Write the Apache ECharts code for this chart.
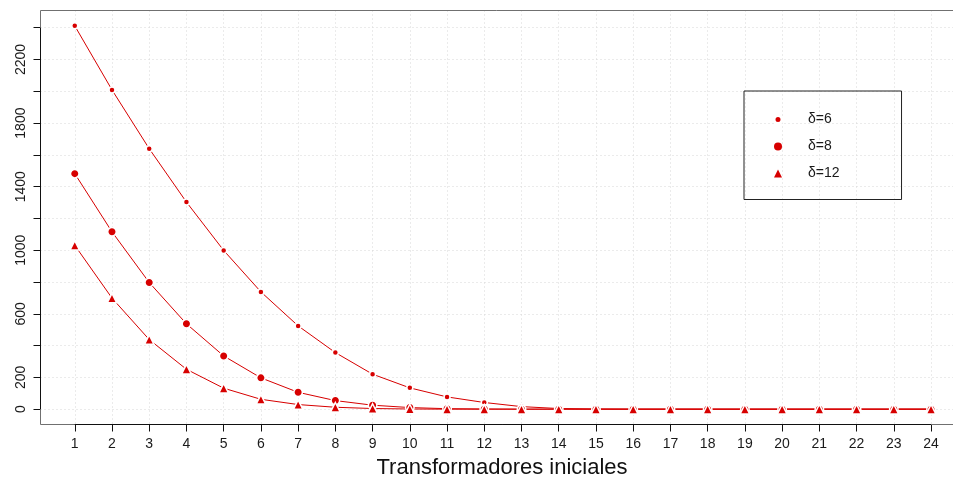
<!DOCTYPE html>
<html>
<head>
<meta charset="utf-8">
<script src="https://cdn.jsdelivr.net/npm/echarts@6/dist/echarts.min.js"></script>
<style>
  html, body { margin: 0; padding: 0; background: #fff; }
  #chart { width: 953px; height: 479px; }
</style>
</head>
<body>
<div id="chart"></div>
<script>
// Number of initial transformers on the x axis
const transformers = [1, 2, 3, 4, 5, 6, 7, 8, 9, 10, 11, 12, 13, 14, 15, 16, 17, 18, 19, 20, 21, 22, 23, 24];

// One curve per delta value
const delta6  = [2412, 2009, 1639, 1303, 999, 738, 524, 356, 220, 134, 77, 42, 16, 4, 1, 0, 0, 0, 0, 0, 0, 0, 0, 0];
const delta8  = [1482, 1116, 797, 537, 335, 197, 106, 54, 25, 10, 3, 1, 0, 0, 0, 0, 0, 0, 0, 0, 0, 0, 0, 0];
const delta12 = [1031, 699, 438, 251, 132, 62, 29, 12, 4, 1, 0, 0, 0, 0, 0, 0, 0, 0, 0, 0, 0, 0, 0, 0];

const seriesNames = ['\u03b4=6', '\u03b4=8', '\u03b4=12'];

// Axis ticks and the labels printed on them
const yTicks = [0, 200, 400, 600, 800, 1000, 1200, 1400, 1600, 1800, 2000, 2200, 2400];
const yLabels = [0, 200, 600, 1000, 1400, 1800, 2200];
const xTitle = 'Transformadores iniciales';

// Axis ranges: 4% padding beyond the data; the plot box runs past the right edge
const xMin = 0.08, xMax = 24.59;
const yMin = -96.5, yMax = 2508.5;

const RED = '#d70000';
const BOX = '#707070';
const INK = '#111111';
const FONT = 'Liberation Sans, Arial, Helvetica, sans-serif';

const pairs = (ys) => transformers.map((x, i) => [x, ys[i]]);

const chart = echarts.init(document.getElementById('chart'), null, { renderer: 'canvas' });

const lineSeries = (name, ys, symbol, size, extra) => Object.assign({
  name: name,
  type: 'line',
  data: pairs(ys),
  symbol: symbol,
  symbolSize: size,
  showAllSymbol: true,
  smooth: false,
  clip: false,
  lineStyle: { color: RED, width: 1 },
  itemStyle: { color: RED, borderColor: '#ffffff', borderWidth: 1.5 },
  emphasis: { disabled: true },
  z: 3
}, extra || {});

const seg = (a, b, color) => [
  { coord: a, lineStyle: { color: color, width: 1, type: 'solid' } },
  { coord: b }
];

chart.setOption({
  animation: false,
  backgroundColor: '#ffffff',
  grid: { left: 40.5, top: 10.5, bottom: 54.5, right: 0, show: false },
  xAxis: {
    type: 'value',
    min: xMin, max: xMax,
    axisLine: { show: false, onZero: false },
    axisTick: { show: true, length: 7, lineStyle: { color: INK, width: 1 }, customValues: transformers },
    axisLabel: { show: true, margin: 13, fontSize: 14, color: '#1a1a1a', fontFamily: FONT, customValues: transformers },
    splitLine: { show: true, lineStyle: { color: '#d6d6d6', type: [1, 3], width: 1 } }
  },
  yAxis: {
    type: 'value',
    min: yMin, max: yMax,
    axisLine: { show: false, onZero: false },
    axisTick: { show: true, length: 7, lineStyle: { color: INK, width: 1 }, customValues: yTicks },
    axisLabel: {
      show: true, rotate: 90, margin: 12, fontSize: 14, color: '#1a1a1a', fontFamily: FONT,
      customValues: yLabels, formatter: (v) => String(v)
    },
    splitLine: { show: true, lineStyle: { color: '#d6d6d6', type: [1, 3], width: 1 } }
  },
  legend: {
    orient: 'vertical',
    left: 744, top: 91,
    padding: [20, 62, 17.5, 28.5],
    itemGap: 10,
    itemWidth: 8, itemHeight: 8,
    borderColor: '#222', borderWidth: 1,
    backgroundColor: 'transparent',
    selectedMode: false,
    textStyle: { fontSize: 14, color: '#1a1a1a', fontFamily: FONT, lineHeight: 17, padding: [0, 0, 0, 21] },
    data: [
      { name: seriesNames[0], icon: 'circle', itemStyle: { color: RED, borderColor: '#ffffff', borderWidth: 3 } },
      { name: seriesNames[1], icon: 'circle', itemStyle: { color: RED, borderWidth: 0 } },
      { name: seriesNames[2], icon: 'triangle', itemStyle: { color: RED, borderWidth: 0 } }
    ]
  },
  graphic: [{
    type: 'text',
    left: 376.5, top: 457,
    style: { text: xTitle, fontSize: 22, fontFamily: FONT, fill: INK }
  }],
  series: [
    lineSeries(seriesNames[0], delta6, 'circle', 6, {
      // plot box (grey) and solid axis segments from first to last tick
      markLine: {
        silent: true,
        symbol: ['none', 'none'],
        label: { show: false },
        emphasis: { disabled: true },
        data: [
          seg([xMin, yMax], [xMax, yMax], BOX),
          seg([xMin, yMin], [xMax, yMin], BOX),
          seg([xMin, yMin], [xMin, yMax], BOX),
          seg([transformers[0], yMin], [transformers[transformers.length - 1], yMin], INK),
          seg([xMin, yTicks[0]], [xMin, yTicks[yTicks.length - 1]], INK)
        ]
      }
    }),
    lineSeries(seriesNames[1], delta8, 'circle', 8.5),
    lineSeries(seriesNames[2], delta12, 'triangle', 9.5)
  ]
});
</script>
</body>
</html>
